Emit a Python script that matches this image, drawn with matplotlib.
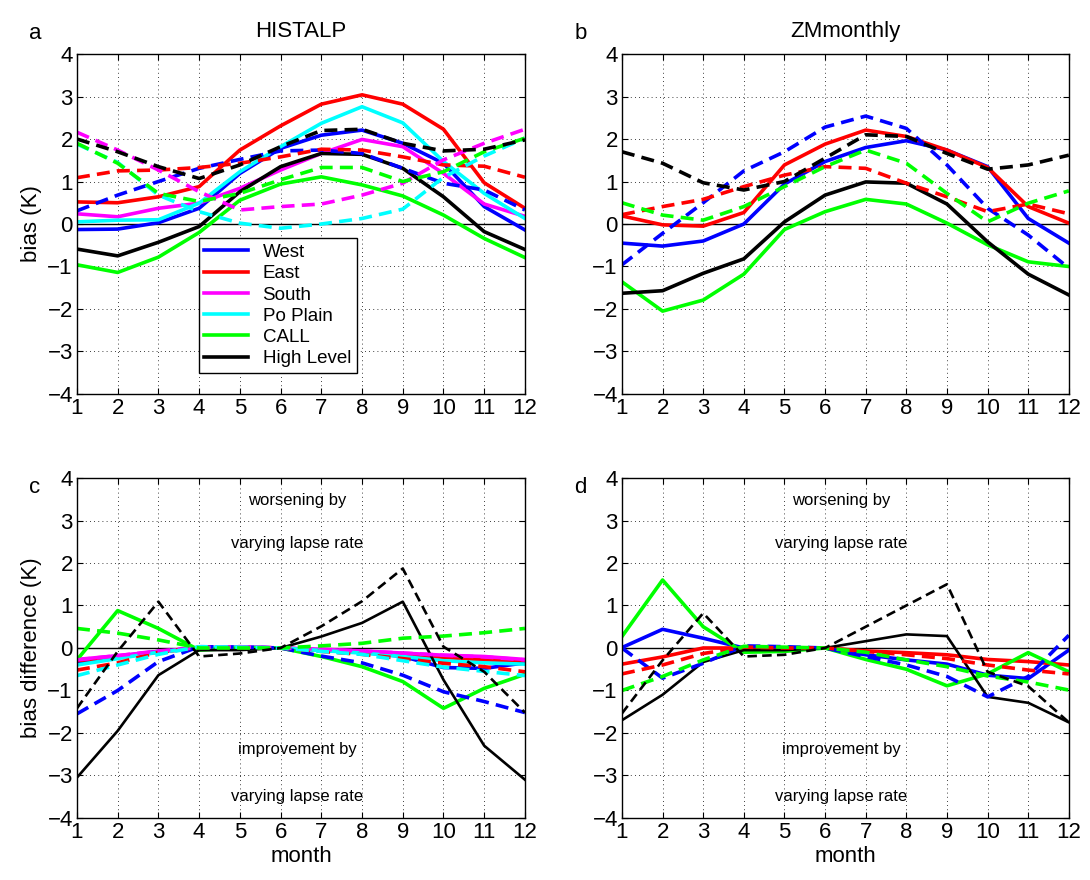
import matplotlib
matplotlib.use("Agg")
import matplotlib.pyplot as plt
import numpy as np

plt.rcParams["font.family"] = ["Liberation Sans", "DejaVu Sans"]

months = np.arange(1, 13)
regions = ["West", "East", "South", "Po Plain", "CALL", "High Level"]
colors = ["#0000ff", "#ff0000", "#ff00ff", "#00ffff", "#00ff00", "#000000"]

# panel a: HISTALP bias, solid and dashed per region
a_solid = {
    "West": [-0.13, -0.12, 0.03, 0.37, 1.19, 1.78, 2.09, 2.21, 1.90, 1.43, 0.41, -0.14],
    "East": [0.52, 0.50, 0.64, 0.88, 1.74, 2.31, 2.82, 3.04, 2.82, 2.23, 0.97, 0.37],
    "South": [0.24, 0.17, 0.37, 0.49, 0.84, 1.27, 1.66, 1.99, 1.82, 1.19, 0.47, 0.18],
    "Po Plain": [0.05, 0.09, 0.10, 0.49, 1.23, 1.82, 2.37, 2.76, 2.38, 1.47, 0.72, 0.13],
    "CALL": [-0.96, -1.14, -0.78, -0.20, 0.56, 0.94, 1.11, 0.92, 0.66, 0.21, -0.34, -0.79],
    "High Level": [-0.59, -0.75, -0.43, -0.06, 0.76, 1.35, 1.66, 1.64, 1.31, 0.64, -0.18, -0.60],
}
a_dashed = {
    "West": [0.31, 0.68, 1.00, 1.31, 1.52, 1.72, 1.74, 1.66, 1.31, 0.96, 0.80, 0.33],
    "East": [1.09, 1.25, 1.27, 1.33, 1.43, 1.58, 1.76, 1.74, 1.58, 1.39, 1.36, 1.10],
    "South": [2.16, 1.74, 1.27, 0.76, 0.33, 0.41, 0.47, 0.68, 0.96, 1.51, 1.90, 2.23],
    "Po Plain": [1.88, 1.45, 0.68, 0.29, 0.02, -0.10, 0.00, 0.13, 0.35, 1.10, 1.60, 2.02],
    "CALL": [1.90, 1.43, 0.72, 0.53, 0.72, 1.04, 1.33, 1.33, 1.00, 1.23, 1.70, 2.02],
    "High Level": [2.00, 1.70, 1.35, 1.07, 1.39, 1.82, 2.20, 2.23, 1.90, 1.72, 1.76, 1.98],
}

# panel b: ZMmonthly bias
b_solid = {
    "West": [-0.45, -0.52, -0.40, 0.00, 0.94, 1.47, 1.80, 1.96, 1.74, 1.35, 0.13, -0.45],
    "East": [0.19, -0.02, -0.05, 0.27, 1.39, 1.88, 2.21, 2.06, 1.74, 1.33, 0.41, 0.02],
    "CALL": [-1.36, -2.05, -1.79, -1.18, -0.13, 0.29, 0.58, 0.47, 0.02, -0.49, -0.89, -1.00],
    "High Level": [-1.63, -1.57, -1.16, -0.82, 0.05, 0.68, 0.99, 0.96, 0.47, -0.42, -1.18, -1.67],
}
b_dashed = {
    "West": [-0.96, -0.22, 0.50, 1.25, 1.70, 2.28, 2.54, 2.25, 1.39, 0.37, -0.26, -1.04],
    "East": [0.22, 0.41, 0.58, 0.88, 1.15, 1.35, 1.31, 0.96, 0.64, 0.29, 0.47, 0.24],
    "CALL": [0.50, 0.21, 0.09, 0.41, 0.88, 1.35, 1.74, 1.43, 0.72, 0.05, 0.49, 0.78],
    "High Level": [1.70, 1.43, 0.97, 0.80, 1.00, 1.55, 2.10, 2.06, 1.66, 1.29, 1.39, 1.62],
}

# panel c: HISTALP bias difference
c_solid = {
    "West": [-0.35, -0.20, -0.08, 0.00, 0.02, 0.00, -0.05, -0.10, -0.20, -0.46, -0.48, -0.35],
    "East": [-0.30, -0.20, -0.10, 0.00, 0.02, 0.00, -0.05, -0.10, -0.15, -0.22, -0.28, -0.30],
    "South": [-0.27, -0.18, -0.08, 0.00, 0.03, 0.00, -0.03, -0.07, -0.12, -0.17, -0.20, -0.27],
    "Po Plain": [-0.40, -0.25, -0.10, 0.00, 0.02, 0.00, -0.06, -0.12, -0.20, -0.30, -0.35, -0.38],
    "CALL": [-0.28, 0.88, 0.46, -0.05, 0.00, 0.00, -0.20, -0.44, -0.79, -1.42, -0.95, -0.62],
    "High Level": [-3.05, -1.95, -0.64, -0.05, -0.05, 0.00, 0.27, 0.59, 1.09, -0.75, -2.30, -3.10],
}
c_dashed = {
    "West": [-1.55, -1.00, -0.32, 0.03, 0.02, 0.00, -0.19, -0.35, -0.64, -1.03, -1.26, -1.52],
    "East": [-0.52, -0.35, -0.10, 0.02, 0.01, 0.00, -0.08, -0.15, -0.25, -0.36, -0.44, -0.56],
    "South": [-0.28, -0.18, -0.07, 0.01, 0.03, 0.00, -0.03, -0.07, -0.12, -0.17, -0.21, -0.28],
    "Po Plain": [-0.65, -0.40, -0.15, 0.03, 0.02, 0.00, -0.08, -0.15, -0.30, -0.45, -0.55, -0.65],
    "CALL": [0.46, 0.35, 0.19, 0.00, 0.00, 0.00, 0.05, 0.11, 0.23, 0.28, 0.36, 0.46],
    "High Level": [-1.42, -0.08, 1.09, -0.20, -0.13, 0.00, 0.51, 1.10, 1.87, 0.03, -0.56, -1.52],
}

# panel d: ZMmonthly bias difference
d_solid = {
    "West": [0.01, 0.44, 0.23, 0.00, 0.00, 0.00, -0.16, -0.28, -0.38, -0.64, -0.72, -0.05],
    "East": [-0.38, -0.21, 0.00, 0.00, 0.00, 0.00, -0.07, -0.11, -0.16, -0.27, -0.32, -0.40],
    "CALL": [0.27, 1.60, 0.50, -0.10, -0.08, 0.00, -0.27, -0.50, -0.89, -0.61, -0.11, -0.56],
    "High Level": [-1.70, -1.10, -0.33, -0.05, -0.05, 0.00, 0.16, 0.32, 0.28, -1.15, -1.29, -1.75],
}
d_dashed = {
    "West": [0.00, -0.71, -0.36, 0.05, 0.03, 0.00, -0.20, -0.40, -0.67, -1.15, -0.67, 0.30],
    "East": [-0.61, -0.40, -0.13, 0.02, 0.00, 0.00, -0.08, -0.16, -0.25, -0.40, -0.52, -0.61],
    "CALL": [-1.00, -0.67, -0.28, 0.04, 0.02, 0.00, -0.10, -0.28, -0.44, -0.66, -0.80, -0.99],
    "High Level": [-1.54, -0.29, 0.82, -0.20, -0.16, 0.00, 0.50, 1.00, 1.50, -0.56, -0.90, -1.75],
}

titles = ["HISTALP", "ZMmonthly"]
letters = ["a", "b", "c", "d"]


def style_axis(ax):
    ax.set_xlim(1, 12)
    ax.set_ylim(-4, 4)
    ax.set_xticks(months)
    ax.set_yticks(np.arange(-4, 5))
    ax.grid(True, color="k", linestyle=(0, (1, 4)), linewidth=0.6)
    ax.tick_params(direction="in", top=True, right=True, labelsize=16, length=4, pad=3)
    ax.axhline(0, color="k", linewidth=1.0, zorder=1)
    for s in ax.spines.values():
        s.set_linewidth(1.0)


def draw(ax, solid, dashed, thin_black=False):
    for name, col in zip(regions, colors):
        if name not in solid:
            continue
        lw = 2.6
        if thin_black and name == "High Level":
            lw = 1.9
        ax.plot(months, solid[name], color=col, linewidth=lw, label=name)
    for name, col in zip(regions, colors):
        if name not in dashed:
            continue
        lw = 2.6
        if thin_black and name == "High Level":
            lw = 1.9
        ax.plot(months, dashed[name], color=col, linewidth=lw,
                linestyle=(0, (3.6, 2.0)))


fig = plt.figure(figsize=(10.9, 8.8), dpi=100)
ax_a = fig.add_axes([0.0706, 0.5523, 0.411, 0.3863])
ax_b = fig.add_axes([0.5706, 0.5523, 0.410, 0.3863])
ax_c = fig.add_axes([0.0706, 0.0705, 0.411, 0.3863])
ax_d = fig.add_axes([0.5706, 0.0705, 0.410, 0.3863])

draw(ax_a, a_solid, a_dashed)
draw(ax_b, b_solid, b_dashed)
draw(ax_c, c_solid, c_dashed, thin_black=True)
draw(ax_d, d_solid, d_dashed, thin_black=True)

for ax in [ax_a, ax_b, ax_c, ax_d]:
    style_axis(ax)

ax_a.set_title(titles[0], fontsize=16, pad=12)
ax_b.set_title(titles[1], fontsize=16, pad=12)
ax_a.set_ylabel("bias (K)", fontsize=16, labelpad=4)
ax_c.set_ylabel("bias difference (K)", fontsize=16, labelpad=4)
ax_c.set_xlabel("month", fontsize=16, labelpad=2)
ax_d.set_xlabel("month", fontsize=16, labelpad=2)

leg = ax_a.legend(loc="lower left", bbox_to_anchor=(0.272, 0.062), fontsize=13.5,
                  frameon=True, fancybox=False, edgecolor="k", framealpha=1,
                  handlelength=2.3, borderpad=0.3, labelspacing=0.22,
                  borderaxespad=0)
leg.get_frame().set_linewidth(1.0)

for ax in [ax_c, ax_d]:
    ax.text(6.4, 3.48, "worsening by", ha="center", va="center", fontsize=12)
    ax.text(6.4, 2.47, "varying lapse rate", ha="center", va="center", fontsize=12)
    ax.text(6.4, -2.4, "improvement by", ha="center", va="center", fontsize=12)
    ax.text(6.4, -3.5, "varying lapse rate", ha="center", va="center", fontsize=12)

fig.text(0.027, 0.962, letters[0], fontsize=16, va="center")
fig.text(0.527, 0.962, letters[1], fontsize=16, va="center")
fig.text(0.027, 0.446, letters[2], fontsize=16, va="center")
fig.text(0.527, 0.446, letters[3], fontsize=16, va="center")

fig.savefig("out.png", dpi=100)
